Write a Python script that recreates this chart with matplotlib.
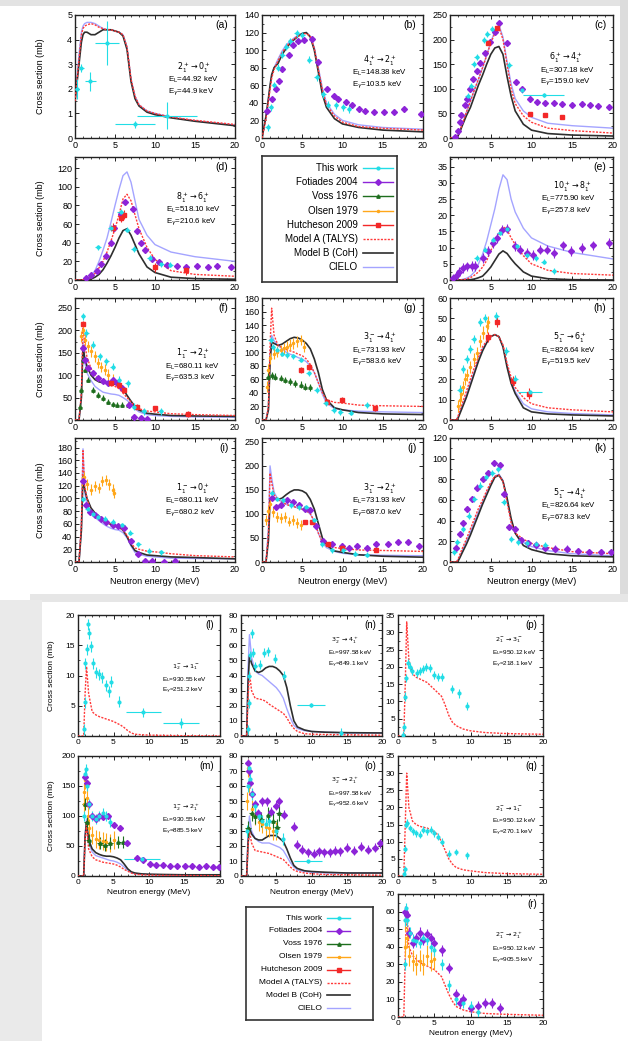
import matplotlib
matplotlib.use("Agg")
import matplotlib.pyplot as plt
from matplotlib.ticker import MultipleLocator
from matplotlib.patches import Rectangle

plt.rcParams['font.family'] = ['Liberation Sans', 'DejaVu Sans']
plt.rcParams['axes.linewidth'] = 1.0

W, H = 628, 1041

# energy grid of the model curves (MeV)
E_MOD = [0, 0.5, 0.8, 1.0, 1.2, 1.5, 2, 2.5, 3, 3.5, 4, 4.5, 5, 5.5, 6, 6.5, 7, 7.5, 8, 9, 10, 12, 15, 20]

# ---------------- model curves (mb) ----------------
a_talys = [1.5, 3.2, 4.2, 4.45, 4.55, 4.6, 4.65, 4.6, 4.5, 4.45, 4.4, 4.4, 4.35, 4.3, 4.2, 3.7, 2.4, 1.7, 1.35, 1.1, 1.0, 0.85, 0.72, 0.55]
a_coh = [1.5, 3.0, 3.9, 4.2, 4.3, 4.3, 4.2, 4.2, 4.3, 4.4, 4.4, 4.4, 4.35, 4.3, 4.15, 3.6, 2.3, 1.6, 1.3, 1.05, 0.95, 0.82, 0.68, 0.5]
a_cielo = [1.5, 3.4, 4.3, 4.55, 4.65, 4.7, 4.7, 4.65, 4.55, 4.45, 4.4, 4.4, 4.35, 4.3, 4.2, 3.7, 2.4, 1.7, 1.35, 1.1, 1.0, 0.85, 0.7, 0.52]

b_talys = [0, 22, 42, 55, 68, 78, 88, 97, 104, 109, 113, 116, 118, 119, 116, 102, 78, 55, 38, 25, 18, 13, 11, 9]
b_coh = [0, 25, 45, 60, 72, 80, 85, 95, 102, 108, 112, 116, 119, 120, 115, 100, 75, 50, 35, 22, 16, 12, 9, 7]
b_cielo = [0, 24, 45, 58, 70, 80, 90, 99, 106, 110, 114, 117, 119, 120, 116, 103, 80, 57, 40, 27, 20, 15, 12, 10]

c_talys = [0, 0, 0, 6, 14, 28, 52, 75, 98, 120, 143, 168, 193, 213, 226, 200, 150, 100, 70, 45, 32, 20, 15, 10]
c_coh = [0, 0, 0, 5, 12, 25, 45, 62, 85, 108, 128, 150, 170, 183, 186, 170, 125, 85, 55, 28, 16, 9, 6, 4]
c_cielo = [0, 0, 0, 6, 14, 28, 52, 75, 98, 120, 143, 168, 195, 217, 230, 205, 155, 110, 80, 55, 42, 30, 25, 20]

d_talys = [0, 0, 0, 0.3, 0.5, 1, 3, 7, 13, 20, 30, 42, 55, 70, 87, 92, 85, 70, 55, 35, 22, 10, 6, 4]
d_coh = [0, 0, 0, 0, 0.2, 0.5, 1, 3, 6, 11, 18, 26, 35, 45, 53, 55, 48, 38, 28, 14, 8, 3, 1.5, 0.8]
d_cielo = [0, 0, 0, 0.5, 1, 2, 5, 10, 20, 32, 45, 62, 80, 97, 112, 116, 105, 85, 65, 48, 38, 30, 25, 20]

e_talys = [0, 0, 0, 0, 0, 0.1, 0.3, 0.7, 1.5, 2.5, 4, 6, 9, 12, 14.5, 16.5, 15.5, 13, 11, 7.5, 5, 3, 2, 1.5]
e_coh = [0, 0, 0, 0, 0, 0, 0, 0.1, 0.3, 0.7, 1.2, 2.5, 4, 6, 8, 9, 8.2, 6.5, 5, 2.5, 1.2, 0.4, 0.1, 0]
e_cielo = [0, 0, 0, 0, 0, 0.2, 0.5, 1.2, 2.5, 5, 8, 12, 17, 22, 28, 32.5, 31, 25, 21, 16, 13, 10.5, 8.5, 6.5]

f_talys = [0, 0, 60, 215, 170, 140, 115, 100, 92, 85, 80, 78, 75, 70, 60, 50, 40, 30, 25, 20, 18, 14, 12, 10]
f_coh = [0, 0, 50, 165, 140, 120, 100, 90, 85, 83, 82, 81, 80, 77, 70, 55, 42, 30, 22, 15, 13, 10, 9, 8]
f_cielo = [0, 0, 55, 175, 130, 105, 88, 75, 68, 62, 60, 58, 57, 55, 50, 44, 36, 25, 18, 12, 10, 8, 7, 6]

g_talys = [0, 0, 20, 110, 165, 125, 110, 107, 104, 102, 100, 97, 95, 90, 82, 70, 55, 40, 30, 26, 25, 22, 21, 20]
g_coh = [0, 0, 15, 85, 115, 113, 110, 112, 116, 120, 122, 121, 118, 113, 105, 90, 70, 45, 30, 18, 15, 11, 9, 8]
g_cielo = [0, 0, 18, 95, 125, 117, 110, 105, 100, 97, 95, 92, 90, 86, 80, 70, 55, 38, 25, 17, 15, 13, 12, 11]

h_talys = [0, 0, 0, 2, 5, 8, 14, 20, 26, 31, 36, 39, 41, 42, 41, 37, 28, 21, 16, 11, 8, 6, 5, 4]
h_coh = [0, 0, 0, 1, 3, 6, 11, 17, 23, 29, 34, 38, 41, 42, 41, 36, 26, 18, 13, 6, 4, 3, 2.5, 2]
h_cielo = [0, 0, 0, 1.5, 4, 7, 12, 18, 24, 30, 35, 38, 41, 42, 41, 36, 27, 19, 14, 8, 5.5, 4, 3.2, 2.5]

i_talys = [0, 0, 60, 175, 120, 100, 80, 72, 68, 65, 62, 60, 58, 55, 50, 42, 30, 22, 20, 17, 16, 13, 10, 8]
i_coh = [0, 0, 50, 135, 115, 100, 85, 77, 72, 66, 62, 59, 57, 55, 50, 40, 27, 18, 15, 11, 10, 8, 7, 5]
i_cielo = [0, 0, 55, 178, 110, 90, 78, 70, 65, 60, 56, 53, 51, 50, 46, 38, 25, 15, 12, 9, 8, 6, 5.5, 5]

j_talys = [0, 0, 60, 185, 165, 140, 130, 125, 120, 117, 115, 112, 110, 107, 100, 85, 60, 42, 35, 30, 28, 25, 24, 22]
j_coh = [0, 0, 45, 130, 135, 132, 130, 133, 140, 146, 150, 150, 148, 143, 130, 110, 80, 50, 35, 23, 20, 15, 12, 10]
j_cielo = [0, 0, 70, 200, 175, 145, 130, 125, 120, 117, 115, 112, 110, 106, 100, 85, 60, 40, 30, 22, 18, 15, 14, 13]

k_talys = [0, 0, 0, 3, 7, 13, 22, 32, 42, 52, 60, 69, 77, 83, 84, 78, 58, 38, 28, 22, 18, 14, 10, 8]
k_coh = [0, 0, 0, 1, 4, 9, 17, 26, 36, 46, 56, 65, 74, 82, 84, 78, 62, 42, 28, 16, 12, 8, 6, 5]
k_cielo = [0, 0, 0, 2, 5, 11, 20, 29, 39, 49, 58, 67, 76, 83, 85, 79, 60, 40, 28, 19, 15, 11, 8, 6]

l_talys = [0, 0, 0, 7, 11.5, 7, 4, 3.5, 3.2, 3, 2.8, 2.6, 2.4, 2.1, 1.8, 1.4, 0.9, 0.5, 0.3, 0.2, 0.15, 0.1, 0.05, 0]
n_talys = [0, 0, 0, 25, 42, 30, 25, 24.5, 24, 23, 21, 19.5, 18, 16.5, 15, 12, 8, 5, 3, 1.5, 1.2, 1, 0.8, 0.5]
n_coh = [0, 0, 0, 35, 53, 48, 43, 42, 43, 45, 46, 46, 45, 43, 40, 32, 20, 10, 6, 4, 3, 2.5, 2.2, 2]
n_cielo = [0, 0, 0, 45, 67, 52, 43, 41, 40, 38, 36, 34, 32, 29, 25, 18, 12, 7, 5, 3.5, 3, 2.5, 2, 2]
p_talys = [0, 0, 0, 15, 33, 22, 18, 17, 16.5, 16, 15.5, 14.5, 13.5, 12.5, 11.5, 9, 6, 4, 3, 2, 1.5, 1, 0.7, 0.5]
m_talys = [0, 0, 0, 60, 85, 45, 32, 27, 25, 23, 22, 21, 20, 18, 15, 11, 8, 5, 3, 2, 1.5, 1, 0.8, 0.5]
m_coh = [0, 0, 0, 65, 90, 60, 45, 39, 36, 34, 33, 33, 32, 30, 27, 20, 12, 7, 5, 3.5, 3, 2.5, 2, 2]
m_cielo = [0, 0, 0, 70, 95, 55, 40, 34, 32, 30, 28, 26, 25, 23, 20, 15, 10, 6, 4, 3, 2.5, 2, 2, 2]
o_talys = [0, 0, 0, 20, 30, 22, 17, 16.5, 16, 15.5, 15, 14, 13, 12, 11, 8.5, 6, 4, 3, 2, 1.5, 1, 0.8, 0.5]
o_coh = [0, 0, 0, 22, 32, 28, 25, 24, 24, 25.5, 27, 27, 27, 25, 23, 18, 12, 7, 5, 3.5, 3, 2.5, 2, 2]
o_cielo = [0, 0, 0, 28, 40, 30, 25, 23, 22, 22, 22, 21, 20, 19, 17, 13, 9, 6, 4, 3, 2.5, 2, 2, 2]
q_talys = [0, 0, 0, 15, 30, 20, 16, 15, 14.5, 14.2, 14, 13.5, 13, 12, 10, 7.5, 5, 3.5, 2.5, 1.8, 1.5, 1, 0.7, 0.5]
r_talys = [0, 0, 0, 35, 62, 40, 35, 33, 31, 30, 29, 28, 27, 25, 23, 18, 13, 9, 6, 4, 3, 2, 1.5, 1]

# ---------------- experimental points (E MeV, sigma mb) ----------------
a_work = [(0.25, 2.0), (0.8, 2.85), (1.9, 2.3), (4.0, 3.85), (7.5, 0.55), (11.5, 0.9)]
a_work_dx = [0.2, 0.3, 0.7, 1.5, 2.5, 3.7]
a_work_dy = [0.4, 0.15, 0.4, 0.9, 0.15, 0.55]

b_work = [(0.7, 12), (1.1, 35), (1.5, 60), (2.0, 80), (2.5, 95), (3.0, 104), (3.5, 110), (4.3, 119),
          (5.0, 117), (5.9, 89), (6.8, 69), (7.6, 50), (8.2, 38), (9.2, 37), (10.1, 35), (10.8, 33)]
b_fot = [(0.6, 31), (1.2, 44), (1.7, 56), (2.1, 65), (2.5, 78), (3.3, 95), (3.9, 106), (4.5, 110), (5.2, 112),
         (6.2, 113), (7.0, 87), (8.1, 56), (8.9, 48), (9.5, 44), (10.4, 41), (11.2, 37), (12.0, 33), (12.8, 31),
         (13.9, 30), (15.1, 30), (16.4, 30), (17.6, 33), (19.7, 27)]

c_work = [(2.2, 85), (2.6, 105), (2.9, 150), (3.3, 165), (4.2, 200), (4.6, 212), (5.2, 222), (7.3, 148), (8.8, 97)]
c_work_wide = [(11.5, 88)]
c_fot = [(0.6, 2), (1.0, 15), (1.2, 32), (1.4, 46), (1.85, 67), (2.05, 79), (2.45, 99), (2.85, 119), (3.3, 136),
         (3.7, 153), (4.3, 173), (4.9, 196), (5.5, 216), (6.0, 233), (7.0, 194), (8.1, 113), (8.8, 100), (9.8, 79),
         (10.7, 74), (11.7, 71), (12.7, 71), (13.7, 69), (15.0, 67), (16.2, 70), (17.2, 67), (18.2, 66), (19.5, 64)]
c_hutch = [(4.7, 194), (5.8, 223), (9.8, 49), (11.7, 47), (13.7, 42)]

d_work = [(2.9, 35), (4.5, 56), (5.7, 73), (6.5, 54), (7.4, 33), (9.4, 24), (10.7, 17), (11.9, 16.5)]
d_fot = [(1.4, 2), (2.0, 5), (2.7, 10), (3.3, 17), (3.9, 26), (4.5, 40), (4.9, 56), (5.7, 71), (6.3, 84),
         (7.2, 76), (7.7, 53), (8.2, 40), (8.8, 32), (9.6, 23), (10.5, 19), (11.5, 16.5), (12.7, 15.4),
         (13.9, 14.3), (15.2, 14.7), (16.6, 14.3), (17.8, 15.4), (19.5, 14.3)]
d_hutch = [(4.8, 56), (5.7, 67), (6.1, 70), (10.0, 13.6), (13.9, 10.8)]

e_work = [(3.3, 6.8), (4.3, 9.4), (5.3, 12.5), (6.1, 14.6), (7.0, 15.7), (8.2, 10.4), (9.4, 7.8),
          (10.5, 6.8), (11.5, 5.7), (12.7, 2.8)]
e_fot = [(0.4, 0.5), (0.8, 1.6), (1.15, 2.6), (1.55, 3.7), (2.05, 4.2), (2.7, 4.4), (3.1, 4.4), (4.1, 6.8),
         (4.7, 8.9), (5.3, 11.5), (5.8, 13), (6.4, 15.5), (7.0, 15.9), (8.0, 10.4), (8.6, 9.4), (9.4, 8.4),
         (10.2, 7.8), (11.1, 9.4), (11.9, 9.4), (12.7, 8.4), (13.9, 10.7), (14.9, 8.9), (16.2, 9.9),
         (17.6, 10.7), (19.5, 11.5)]

f_work = [(1.0, 231), (1.4, 194), (2.25, 168), (3.1, 142), (3.9, 131), (4.7, 119), (5.5, 90), (6.6, 82),
          (7.4, 30), (8.6, 19), (10.7, 19)]
f_olsen = [(0.8, 187), (1.0, 201), (1.2, 179), (1.6, 164), (2.05, 153), (2.5, 142), (2.9, 127), (3.3, 118),
           (3.7, 112), (4.1, 101), (4.7, 90)]
f_fot = [(1.0, 160), (1.2, 134), (1.6, 116), (2.25, 104), (2.9, 93), (3.5, 86), (4.1, 82), (4.7, 90),
         (5.3, 82), (5.9, 71), (6.8, 34), (7.4, 7), (8.2, 4), (9.0, 1.5)]
f_voss = [(0.6, 30), (0.8, 67), (1.0, 134), (1.2, 112), (1.6, 90), (2.25, 67), (2.9, 56), (3.5, 49),
          (4.1, 41), (4.7, 35), (5.3, 34), (5.9, 34), (6.6, 34)]
f_hutch = [(1.0, 215), (4.5, 82), (5.5, 78), (6.1, 67), (7.8, 30), (10.0, 26), (14.1, 13)]

g_work = [(1.1, 118), (1.37, 108), (1.86, 103), (2.5, 98), (3.1, 96), (3.9, 94), (4.8, 89), (5.8, 69),
          (6.8, 44), (7.9, 25), (8.9, 15), (9.7, 12), (11.0, 11), (13.0, 22)]
g_olsen = [(0.6, 49), (0.8, 74), (1.0, 91), (1.45, 98), (1.86, 101), (2.3, 103), (2.7, 106), (3.1, 108),
           (3.5, 111), (3.9, 113), (4.3, 116), (4.8, 118), (5.2, 108)]
g_voss = [(0.8, 64), (1.2, 66), (1.66, 64), (2.3, 62), (2.9, 59), (3.5, 57), (4.1, 54), (4.8, 52),
          (5.4, 49), (6.0, 48)]
g_hutch = [(4.8, 74), (5.9, 78), (8.1, 27), (9.9, 30), (14.0, 17)]

h_work = [(1.2, 15), (1.6, 25), (2.05, 30), (2.5, 35), (2.9, 40), (3.7, 48), (4.3, 50), (5.7, 51),
          (6.9, 34), (8.0, 20)]
h_work_wide = [(9.8, 14)]
h_olsen = [(1.0, 7), (1.2, 10), (1.4, 13), (1.6, 16), (1.8, 20), (2.05, 22), (2.5, 26), (2.9, 30),
           (3.3, 33), (3.7, 39), (4.1, 43), (4.5, 46), (4.7, 48)]
h_hutch = [(4.7, 41), (5.8, 48), (7.7, 19), (9.7, 13)]

i_work = [(1.0, 99), (1.6, 84), (2.2, 76), (2.9, 71), (3.7, 68), (4.7, 63), (5.9, 58), (6.9, 46),
          (7.9, 28), (9.3, 18), (10.8, 15)]
i_olsen = [(0.84, 127), (1.1, 134), (1.5, 122), (2.0, 114), (2.5, 119), (2.95, 117), (3.4, 127),
           (3.9, 129), (4.2, 122), (4.7, 114), (4.9, 109)]
i_fot = [(1.0, 127), (1.4, 89), (1.9, 79), (2.5, 74), (3.2, 68), (3.9, 63), (4.7, 58), (5.4, 56),
         (6.1, 53), (7.0, 33), (7.9, 13), (8.8, 1), (9.6, 1), (11.1, 0), (12.5, 1)]

j_work = [(1.2, 144), (1.9, 131), (2.65, 128), (3.6, 118), (4.6, 114), (5.5, 114), (6.5, 87), (7.5, 37),
          (8.7, 24), (10.1, 24), (11.6, 17), (13.0, 15)]
j_olsen = [(0.5, 87), (0.7, 107), (1.0, 121), (1.4, 104), (1.9, 94), (2.4, 91), (2.9, 94), (3.4, 84),
           (3.9, 87), (4.3, 81), (4.8, 77)]
j_fot = [(1.2, 134), (1.7, 114), (2.4, 118), (3.1, 128), (3.9, 124), (4.6, 118), (5.3, 111), (6.0, 108),
         (6.7, 74), (7.6, 44), (8.7, 37), (9.9, 34), (10.8, 30), (11.8, 34), (13.0, 30), (14.2, 37),
         (15.7, 38), (16.9, 42), (18.1, 42), (19.5, 34)]
j_hutch = [(5.3, 84), (6.2, 84), (8.2, 37), (9.9, 30), (14.2, 24)]

k_work = [(0.5, 10), (0.9, 19), (1.6, 32), (2.3, 45), (3.0, 61), (3.7, 74), (4.4, 82), (5.2, 86),
          (5.9, 90), (6.6, 58), (7.5, 22), (8.4, 19), (9.4, 18), (10.5, 17), (11.7, 16)]
k_fot = [(0.7, 14), (1.2, 27), (1.6, 38), (2.1, 51), (2.7, 61), (3.3, 72), (4.0, 80), (4.7, 86),
         (5.4, 96), (6.1, 94), (6.6, 66), (7.3, 34), (8.0, 32), (8.7, 21), (9.6, 18), (10.5, 16),
         (11.7, 14), (12.9, 13), (14.3, 13), (15.7, 11), (17.1, 10), (18.5, 10), (19.7, 10)]

l_work = [(0.85, 1.1), (0.95, 5.6), (1.05, 12), (1.2, 14.3), (1.4, 18.5), (1.55, 17), (1.8, 14.8),
          (2.05, 12), (2.5, 10.5), (3.0, 10.2), (3.45, 9.7), (3.9, 8.4), (4.3, 7.4), (4.7, 9.0), (5.8, 5.7)]
l_work_wide = [(9.2, 3.9), (14.5, 2.1)]

n_work = [(0.95, 4.4), (1.1, 21.6), (1.2, 40), (1.3, 53.5), (1.5, 68), (1.7, 55), (2.05, 46), (2.75, 47),
          (3.2, 55), (3.85, 56), (4.8, 51), (6.1, 40), (14.2, 2.2)]
n_work_wide = [(9.9, 20.5)]

p_work = [(0.7, 0.3), (0.85, 2.7), (1.0, 11.4), (1.15, 16.7), (1.35, 21), (1.6, 20), (1.9, 18.8),
          (2.6, 18.3), (3.0, 18.8), (3.5, 19.4), (3.9, 20), (4.35, 19.6), (4.9, 17.6), (5.55, 17),
          (6.1, 17), (7.5, 13.5), (8.4, 12.3), (9.5, 8.7)]

m_work = [(0.9, 100), (1.0, 170), (1.1, 178), (1.3, 150), (1.6, 120), (2.0, 100), (2.5, 95), (3.0, 100),
          (3.5, 105), (4.0, 100), (4.5, 90)]
m_work_wide = [(9.0, 28)]
m_fot = [(1.0, 165), (1.2, 155), (1.5, 120), (2.0, 100), (2.6, 95), (3.0, 100), (3.5, 98), (4.2, 100),
         (5.0, 85), (5.9, 80), (6.9, 55), (8.3, 30), (9.2, 27), (10.2, 20), (11.0, 19), (12.0, 18),
         (13.0, 17), (14.0, 17), (15.0, 16), (16.0, 17), (17.0, 15), (18.0, 16), (19.0, 15), (19.8, 15)]
m_olsen = [(0.8, 120), (0.9, 140), (1.0, 160), (1.2, 130), (1.4, 100), (1.6, 80), (2.0, 68), (2.5, 62),
           (3.0, 60), (3.5, 58), (4.0, 57), (4.5, 55), (5.0, 60)]
m_voss = [(1.0, 120), (1.2, 90), (1.5, 60), (3.1, 55), (3.8, 52), (4.5, 55), (5.7, 57), (6.4, 57)]

o_work = [(0.9, 30), (1.0, 60), (1.1, 72), (1.3, 65), (1.6, 55), (2.0, 47), (2.5, 40), (3.0, 37),
          (3.5, 35), (4.0, 37), (5.0, 30), (6.0, 25)]
o_work_wide = [(9.5, 10)]
o_fot = [(1.0, 75), (1.15, 70), (1.3, 62), (1.6, 55), (2.0, 48), (2.4, 42), (3.0, 50), (3.7, 50),
         (4.2, 43), (4.9, 47), (5.4, 50), (6.1, 41), (7.5, 33), (8.0, 21), (8.7, 17.5), (9.5, 16),
         (10.3, 15), (11.0, 16.5), (11.8, 16), (12.6, 16), (13.3, 17), (14.0, 16.5), (15.0, 19),
         (16.0, 17), (17.0, 19.5), (18.0, 17.5), (19.0, 19), (19.7, 22)]
o_olsen = [(0.9, 50), (1.0, 72), (1.2, 60), (1.5, 45), (2.0, 40), (2.5, 36), (3.0, 35), (3.5, 33),
           (4.0, 32), (4.5, 30), (5.0, 30)]
o_voss = [(1.0, 32), (1.5, 42), (2.0, 40), (2.8, 38), (3.9, 41), (4.5, 37), (5.1, 33), (5.4, 42)]

q_work = [(0.8, 0.5), (0.9, 2), (1.0, 8), (1.1, 15), (1.3, 15.5), (1.6, 14), (2.0, 13), (2.5, 12.5),
          (3.0, 12), (3.5, 13.5), (4.0, 13), (4.5, 13.5), (5.0, 12.5), (5.5, 11.5), (6.0, 10), (7.0, 6.5),
          (8.0, 7), (9.5, 6)]

r_work = [(0.9, 30), (1.0, 55), (1.1, 62), (1.3, 55), (1.6, 48), (2.0, 44), (2.5, 43), (3.0, 42),
          (3.5, 45), (4.0, 44), (4.5, 40), (5.0, 38), (6.0, 30), (7.0, 18), (8.0, 10), (9.0, 8),
          (10.0, 6), (11.0, 3)]
r_fot = [(1.0, 60), (1.2, 58), (1.5, 48), (2.0, 42), (2.5, 45), (3.0, 48), (3.5, 44), (4.0, 47),
         (4.5, 45), (5.0, 42), (6.0, 38), (7.0, 28), (8.0, 13), (8.5, 8), (9.0, 10), (10.0, 5),
         (11.0, 6), (12.0, 8), (13.0, 8), (14.0, 5)]
r_olsen = [(0.9, 40), (1.0, 55), (1.2, 45), (1.5, 35), (2.0, 32), (2.5, 30), (3.0, 32), (3.5, 30),
           (4.0, 35), (4.5, 32), (5.0, 33)]

legend_labels = ['This work', 'Fotiades 2004', 'Voss 1976', 'Olsen 1979', 'Hutcheson 2009',
                 'Model A (TALYS)', 'Model B (CoH)', 'CIELO']

# ---------------- styles ----------------
STYLE = {
    'work': dict(color='#22dde6', marker='o', ms=2.0),
    'fot': dict(color='#8d24d8', marker='D', ms=3.0),
    'voss': dict(color='#1e6e1e', marker='^', ms=2.4),
    'olsen': dict(color='#ffa71a', marker='o', ms=1.5),
    'hutch': dict(color='#f32828', marker='s', ms=3.4),
}
C_TALYS = '#ff3a3a'
C_COH = '#2e2e2e'
C_CIELO = '#a4a4ff'

fig = plt.figure(figsize=(W / 100, H / 100), dpi=100)


def fig_rect(x0, y0, x1, y1, color):
    fig.add_artist(Rectangle((x0 / W, 1 - y1 / H), (x1 - x0) / W, (y1 - y0) / H,
                             transform=fig.transFigure, color=color, zorder=0, lw=0))


# page background bits (scanned-page look)
fig_rect(0, 0, 628, 6, '#e3e3e3')
fig_rect(620, 0, 628, 600, '#dcdcdc')
fig_rect(30, 594, 628, 602, '#e6e6e6')
fig_rect(0, 600, 42, 1041, '#eaeaea')


def px_axes(left, top, width, height):
    return fig.add_axes([left / W, 1 - (top + height) / H, width / W, height / H])


def draw_set(ax, pts, key, dx, dy):
    st = STYLE[key]
    xs = [p[0] for p in pts]
    ys = [p[1] for p in pts]
    ax.errorbar(xs, ys, xerr=dx, yerr=dy, fmt=st['marker'], ms=st['ms'], color=st['color'],
                mec=st['color'], elinewidth=0.8, capsize=0, zorder=4)


# tag, box(px), ymax, ystep, transition, EL, Eg, text x, text y, models, data, ylabel, xlabel, small
panels = [
    ('a', (75, 15, 160, 123), 5, 1, r'$2^+_1\rightarrow0^+_1$', '44.92', '44.9', (0.64, 0.58), (0.57, 0.47, 0.37),
     (a_talys, a_coh, a_cielo), [('work', a_work, a_work_dx, a_work_dy)], True, False, False),
    ('b', (262, 15, 161, 123), 140, 20, r'$4^+_1\rightarrow2^+_1$', '148.38', '103.5', (0.63, 0.56), (0.63, 0.53, 0.43),
     (b_talys, b_coh, b_cielo), [('fot', b_fot, 0.2, 3), ('work', b_work, 0.3, 4)], False, False, False),
    ('c', (450, 15, 163, 123), 250, 50, r'$6^+_1\rightarrow4^+_1$', '307.18', '159.0', (0.61, 0.55), (0.65, 0.55, 0.45),
     (c_talys, c_coh, c_cielo), [('fot', c_fot, 0.25, 5), ('hutch', c_hutch, 0.1, 4),
                                 ('work', c_work, 0.3, 6), ('work', c_work_wide, 2.5, 4)], False, False, False),
    ('d', (75, 157, 160, 123), 132, 20, r'$8^+_1\rightarrow6^+_1$', '518.10', '210.6', (0.63, 0.57), (0.67, 0.57, 0.47),
     (d_talys, d_coh, d_cielo), [('fot', d_fot, 0.3, 3), ('hutch', d_hutch, 0.2, 5), ('work', d_work, 0.4, 3)],
     True, False, False),
    ('e', (450, 157, 163, 123), 38, 5, r'$10^+_1\rightarrow8^+_1$', '775.90', '257.8', (0.63, 0.56), (0.76, 0.66, 0.56),
     (e_talys, e_coh, e_cielo), [('fot', e_fot, 0.3, 1.5), ('work', e_work, 0.3, 0.8)], False, False, False),
    ('f', (75, 298, 160, 122), 272, 50, r'$1^-_1\rightarrow2^+_1$', '680.11', '635.3', (0.63, 0.56), (0.54, 0.44, 0.34),
     (f_talys, f_coh, f_cielo), [('olsen', f_olsen, 0.05, 12), ('voss', f_voss, 0.25, 6), ('fot', f_fot, 0.2, 6),
                                 ('hutch', f_hutch, 0.2, 6), ('work', f_work, 0.3, 8)], True, False, False),
    ('g', (262, 298, 161, 122), 180, 20, r'$3^-_1\rightarrow4^+_1$', '731.93', '583.6', (0.63, 0.56), (0.67, 0.57, 0.47),
     (g_talys, g_coh, g_cielo), [('olsen', g_olsen, 0.05, 8), ('voss', g_voss, 0.25, 5), ('hutch', g_hutch, 0.2, 4),
                                 ('work', g_work, 0.3, 4)], False, False, False),
    ('h', (450, 298, 163, 122), 60, 10, r'$5^-_1\rightarrow6^+_1$', '826.64', '519.5', (0.63, 0.56), (0.67, 0.57, 0.47),
     (h_talys, h_coh, h_cielo), [('olsen', h_olsen, 0.05, 3), ('hutch', h_hutch, 0.2, 2.5),
                                 ('work', h_work, 0.3, 2), ('work', h_work_wide, 1.5, 1)], False, False, False),
    ('i', (75, 438, 160, 124), 195, 20, r'$1^-_1\rightarrow0^+_1$', '680.11', '680.2', (0.63, 0.56), (0.59, 0.49, 0.39),
     (i_talys, i_coh, i_cielo), [('olsen', i_olsen, 0.05, 8), ('fot', i_fot, 0.3, 3), ('work', i_work, 0.3, 4)],
     True, True, False),
    ('j', (262, 438, 161, 124), 258, 50, r'$3^-_1\rightarrow2^+_1$', '731.93', '687.0', (0.63, 0.56), (0.59, 0.49, 0.39),
     (j_talys, j_coh, j_cielo), [('olsen', j_olsen, 0.05, 10), ('fot', j_fot, 0.3, 5), ('hutch', j_hutch, 0.2, 4),
                                 ('work', j_work, 0.3, 5)], False, True, False),
    ('k', (450, 438, 163, 124), 120, 20, r'$5^-_1\rightarrow4^+_1$', '826.64', '678.3', (0.63, 0.56), (0.55, 0.45, 0.35),
     (k_talys, k_coh, k_cielo), [('fot', k_fot, 0.3, 3), ('work', k_work, 0.3, 3)], False, True, False),
    ('l', (78, 615, 142, 121), 20, 5, r'$1^-_2\rightarrow1^-_1$', '930.55', '251.2', (0.66, 0.59), (0.57, 0.47, 0.37),
     (l_talys, None, None), [('work', l_work, 0.1, 0.9), ('work', l_work_wide, 2.5, 0.8)], True, False, True),
    ('n', (241, 615, 141, 121), 80, 10, r'$3^-_2\rightarrow4^+_1$', '997.58', '849.1', (0.64, 0.62), (0.79, 0.69, 0.59),
     (n_talys, n_coh, n_cielo), [('work', n_work, 0.15, 3), ('work', n_work_wide, 2.0, 1.5)], False, False, True),
    ('p', (398, 615, 145, 121), 35, 5, r'$2^-_1\rightarrow3^-_1$', '950.12', '218.1', (0.67, 0.65), (0.79, 0.69, 0.59),
     (p_talys, None, None), [('work', p_work, 0.15, 1.2)], False, False, True),
    ('m', (78, 756, 142, 120), 200, 50, r'$1^-_2\rightarrow2^+_1$', '930.55', '885.5', (0.66, 0.59), (0.57, 0.47, 0.37),
     (m_talys, m_coh, m_cielo), [('olsen', m_olsen, 0.05, 15), ('voss', m_voss, 0.4, 10), ('fot', m_fot, 0.3, 5),
                                 ('work', m_work, 0.1, 8), ('work', m_work_wide, 2.5, 3)], True, True, True),
    ('o', (241, 756, 141, 120), 80, 10, r'$3^-_2\rightarrow2^+_1$', '997.58', '952.6', (0.64, 0.62), (0.79, 0.69, 0.59),
     (o_talys, o_coh, o_cielo), [('olsen', o_olsen, 0.05, 6), ('voss', o_voss, 0.4, 5), ('fot', o_fot, 0.3, 3),
                                 ('work', o_work, 0.1, 4), ('work', o_work_wide, 2.0, 1)], False, True, True),
    ('q', (398, 756, 145, 120), 35, 5, r'$2^-_1\rightarrow1^-_1$', '950.12', '270.1', (0.67, 0.65), (0.56, 0.46, 0.36),
     (q_talys, None, None), [('work', q_work, 0.15, 1.0)], False, False, True),
    ('r', (398, 894, 145, 123), 70, 10, r'$2^-_1\rightarrow2^+_1$', '950.12', '905.5', (0.67, 0.65), (0.66, 0.56, 0.46),
     (r_talys, None, None), [('olsen', r_olsen, 0.05, 6), ('fot', r_fot, 0.3, 3), ('work', r_work, 0.15, 3)],
     False, True, True),
]

for (tag, box, ymax, ystep, trans, el, eg, tx, ty, models, data, ylab, xlab, small) in panels:
    ax = px_axes(*box)
    talys, coh, cielo = models
    if cielo is not None:
        ax.plot(E_MOD, cielo, color=C_CIELO, lw=1.0, zorder=2)
    if coh is not None:
        ax.plot(E_MOD, coh, color=C_COH, lw=1.2, zorder=2)
    ax.plot(E_MOD, talys, color=C_TALYS, lw=1.0, ls=(0, (1.5, 1.0)), zorder=3)
    for key, pts, dx, dy in data:
        draw_set(ax, pts, key, dx, dy)

    ax.set_xlim(0, 20)
    ax.set_ylim(0, ymax)
    ax.xaxis.set_major_locator(MultipleLocator(5))
    ax.xaxis.set_minor_locator(MultipleLocator(1))
    ax.yaxis.set_major_locator(MultipleLocator(ystep))
    ax.yaxis.set_minor_locator(MultipleLocator(ystep / 2))
    fs = 6.0 if small else 6.5
    ax.tick_params(which='both', direction='in', top=True, right=True, labelsize=fs, pad=2)
    ax.tick_params(which='major', length=3, width=0.6)
    ax.tick_params(which='minor', length=1.5, width=0.5)
    for s in ax.spines.values():
        s.set_color('#222222')

    afs = 4.6 if small else 5.7
    ax.text(0.96, 0.92, '(%s)' % tag, transform=ax.transAxes, ha='right', va='center',
            fontsize=7.5 if not small else 7)
    ax.text(tx[0], ty[0], trans, transform=ax.transAxes, ha='left', va='center', fontsize=afs)
    ax.text(tx[1], ty[1], r'E$_{\rm L}$=%s keV' % el, transform=ax.transAxes, ha='left', va='center', fontsize=afs)
    ax.text(tx[1], ty[2], r'E$_{\gamma}$=%s keV' % eg, transform=ax.transAxes, ha='left', va='center', fontsize=afs)

    if ylab:
        ax.set_ylabel('Cross section (mb)', fontsize=fs)
        label_px = 55 if small else 45
        ax.yaxis.set_label_coords((label_px - box[0]) / box[2], 0.5)
    if xlab:
        ax.set_xlabel('Neutron energy (MeV)', fontsize=fs, labelpad=2)


def draw_legend(box, text_x, line_x0, line_x1, y0, dy, fs):
    lax = px_axes(*box)
    lax.set_xlim(box[0], box[0] + box[2])
    lax.set_ylim(box[1] + box[3], box[1])
    lax.set_xticks([])
    lax.set_yticks([])
    for s in lax.spines.values():
        s.set_linewidth(1.2)
        s.set_color('#333333')
    keys = ['work', 'fot', 'voss', 'olsen', 'hutch']
    for i, lab in enumerate(legend_labels):
        y = y0 + i * dy
        lax.text(text_x, y, lab, ha='right', va='center', fontsize=fs)
        xm = (line_x0 + line_x1) / 2
        if i < 5:
            st = STYLE[keys[i]]
            lax.plot([line_x0, line_x1], [y, y], color=st['color'], lw=1.0)
            lax.plot([xm], [y], marker=st['marker'], ms=st['ms'], color=st['color'])
        elif i == 5:
            lax.plot([line_x0, line_x1], [y, y], color=C_TALYS, lw=1.0, ls=(0, (1.5, 1.0)))
        elif i == 6:
            lax.plot([line_x0, line_x1], [y, y], color=C_COH, lw=1.2)
        else:
            lax.plot([line_x0, line_x1], [y, y], color=C_CIELO, lw=1.0)


draw_legend((262, 156, 135, 126), 358, 363, 393, 168, 14.2, 7)
draw_legend((246, 907, 127, 113), 322, 327, 350, 918, 12.9, 6)

fig.savefig('out.png', dpi=100)
